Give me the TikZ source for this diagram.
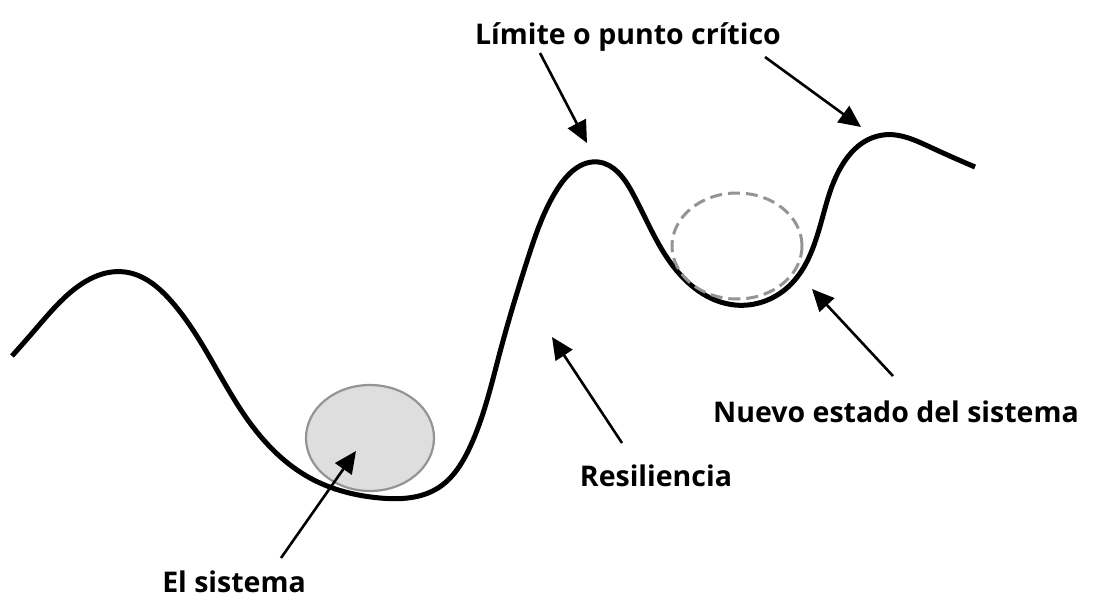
\documentclass[tikz,border=0pt]{standalone}
\usepackage{fontspec}
\setmainfont{Open Sans}
\usetikzlibrary{arrows.meta,shapes.geometric,hobby}
\begin{document}
\begin{tikzpicture}[x=1pt,y=-1pt,
  lbl/.style={font=\bfseries\fontsize{28.5}{30}\selectfont, anchor=base, inner sep=0pt},
  pointer/.style={line width=2.6pt, -{Triangle[length=22pt,width=20pt]}},
  landscape/.style={line width=5pt, line join=round},
  ballnow/.style={ellipse, draw=black!42, line width=2.2pt, fill=black!15, fill opacity=0.85, minimum width=128pt, minimum height=106pt, inner sep=0pt},
  ballnew/.style={ellipse, draw=black!42, line width=3pt, dash pattern=on 12pt off 6pt, minimum width=130pt, minimum height=106pt, inner sep=0pt}]
\useasboundingbox (0,0) rectangle (1095,610);
\fill[white] (0,0) rectangle (1095,610);
% landscape
\draw[landscape, use Hobby shortcut] (12,356) .. (34,331) .. (60,302) .. (125,272) .. (172,302)
 .. (250,423) .. (310,478) .. (380,498) .. (438,488) .. (470,447) .. (500,352)
 .. (528,258) .. (558,188) .. (598,162) .. (632,192) .. (670,262) .. (735,305)
 .. (788,287) .. (828,198) .. (883,135) .. (930,147) .. (975,167);
% balls
\node[ballnow] (ball) at (370,438) {};
\node[ballnew] (newball) at (737,246) {};
% labels
\node[lbl] (limite) at (628,45) {Límite o punto crítico};
\node[lbl] (resil) at (656,486) {Resiliencia};
\node[lbl] (nuevo) at (896,422) {Nuevo estado del sistema};
\node[lbl] (sistema) at (234,592) {El sistema};
% arrow ends
\coordinate (tipA) at (587,143);
\coordinate (tipB) at (861,127);
\coordinate (tipR) at (552,337);
\coordinate (tipN) at (812,289);
\coordinate (tipS) at (356,451);
\coordinate (startA) at (540,53);
\coordinate (startB) at (765,57);
\coordinate (startR) at (622,443);
\coordinate (startN) at (893,376);
\coordinate (startS) at (281,558);
\draw[pointer] (startA) -- (tipA);
\draw[pointer] (startB) -- (tipB);
\draw[pointer] (startR) -- (tipR);
\draw[pointer] (startN) -- (tipN);
\draw[pointer] (startS) -- (tipS);
\end{tikzpicture}
\end{document}
